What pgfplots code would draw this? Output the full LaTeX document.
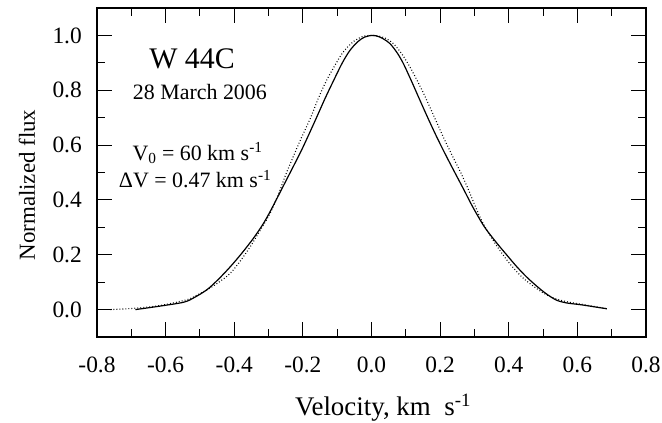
\documentclass[border=0pt]{standalone}
\usepackage{fontspec}
\setmainfont{Liberation Serif}
\usepackage{pgfplots}
\pgfplotsset{compat=1.18}
\begin{document}
\begin{tikzpicture}
\path[use as bounding box] (0,0) rectangle (662bp,423bp);
\begin{axis}[
  scale only axis,
  width=549bp, height=329bp,
  at={(97bp,86bp)}, anchor=south west,
  xmin=-0.8, xmax=0.8, ymin=-0.1, ymax=1.1,
  xtick={-0.8,-0.6,-0.4,-0.2,0,0.2,0.4,0.6,0.8},
  xticklabels={-0.8,-0.6,-0.4,-0.2,0.0,0.2,0.4,0.6,0.8},
  ytick={0,0.2,0.4,0.6,0.8,1.0},
  yticklabels={0.0,0.2,0.4,0.6,0.8,1.0},
  minor x tick num=1, minor y tick num=1,
  tick align=inside,
  major tick length=15bp, minor tick length=8bp,
  every tick/.style={line width=1.1bp, black},
  axis line style={line width=1.2bp},
  ticklabel style={font=\fontsize{23.5}{28}\selectfont, inner sep=0pt},
  xticklabel style={yshift=-20bp},
  yticklabel style={xshift=-15bp},
  xlabel={Velocity, km\ \ s\textsuperscript{-1}},
  ylabel={Normalized\ flux},
  xlabel style={font=\fontsize{27}{32}\selectfont, at={(axis description cs:0.521,-0.240)}, anchor=base},
  ylabel style={font=\fontsize{23}{27}\selectfont, at={(axis description cs:-0.113,0.462)}, anchor=base},
  clip=false,
]
\addplot[black, line width=1.2bp, smooth, tension=0.5] coordinates {
(-0.688,0.000) (-0.62,0.012) (-0.547,0.027) (-0.515,0.045) (-0.479,0.073)
(-0.445,0.112) (-0.411,0.157) (-0.377,0.207) (-0.343,0.262) (-0.315,0.314)
(-0.291,0.368) (-0.250,0.468) (-0.208,0.571) (-0.185,0.632) (-0.160,0.701)
(-0.135,0.771) (-0.111,0.834) (-0.085,0.900) (-0.063,0.945) (-0.040,0.977)
(-0.020,0.994) (0.003,1.000) (0.020,0.996) (0.035,0.987) (0.054,0.970)
(0.075,0.936) (0.093,0.897) (0.117,0.832) (0.141,0.764) (0.165,0.697)
(0.190,0.630) (0.215,0.567) (0.239,0.509) (0.268,0.440) (0.297,0.370)
(0.330,0.300) (0.365,0.243) (0.395,0.198) (0.423,0.157) (0.452,0.119)
(0.482,0.085) (0.510,0.057) (0.540,0.034) (0.570,0.024) (0.608,0.018)
(0.650,0.010) (0.686,0.003)
};
\addplot[black, line width=1.1bp, dash pattern=on 0.9bp off 2.1bp, smooth, tension=0.5] coordinates {
(-0.761,0.000) (-0.70,0.004) (-0.62,0.014) (-0.538,0.036) (-0.505,0.055)
(-0.470,0.079) (-0.44,0.104) (-0.411,0.133) (-0.382,0.178) (-0.353,0.230)
(-0.324,0.290) (-0.295,0.352) (-0.270,0.425) (-0.250,0.492) (-0.228,0.558)
(-0.205,0.625) (-0.179,0.695) (-0.155,0.770) (-0.131,0.836) (-0.100,0.905)
(-0.085,0.935) (-0.068,0.960) (-0.050,0.980) (-0.030,0.994) (-0.015,0.999)
(0.003,1.000) (0.020,0.998) (0.040,0.990) (0.064,0.970) (0.088,0.933)
(0.112,0.885) (0.137,0.826) (0.161,0.764) (0.185,0.697) (0.209,0.630)
(0.234,0.565) (0.258,0.505) (0.280,0.445) (0.302,0.378)
(0.325,0.315) (0.36,0.242) (0.40,0.172) (0.44,0.117) (0.48,0.078)
(0.51,0.054) (0.54,0.038) (0.58,0.026) (0.62,0.018) (0.686,0.003)
};
\node[font=\fontsize{30}{35}\selectfont] at (axis cs:-0.523,0.916) {W 44C};
\node[font=\fontsize{22}{26}\selectfont] at (axis cs:-0.500,0.794) {28 March 2006};
\node[font=\fontsize{22}{26}\selectfont, anchor=base] at (axis cs:-0.507,0.545) {V\textsubscript{0} = 60 km s\textsuperscript{-1}};
\node[font=\fontsize{22}{26}\selectfont, anchor=base] at (axis cs:-0.514,0.444) {ΔV = 0.47 km s\textsuperscript{-1}};
\end{axis}
\end{tikzpicture}
\end{document}
